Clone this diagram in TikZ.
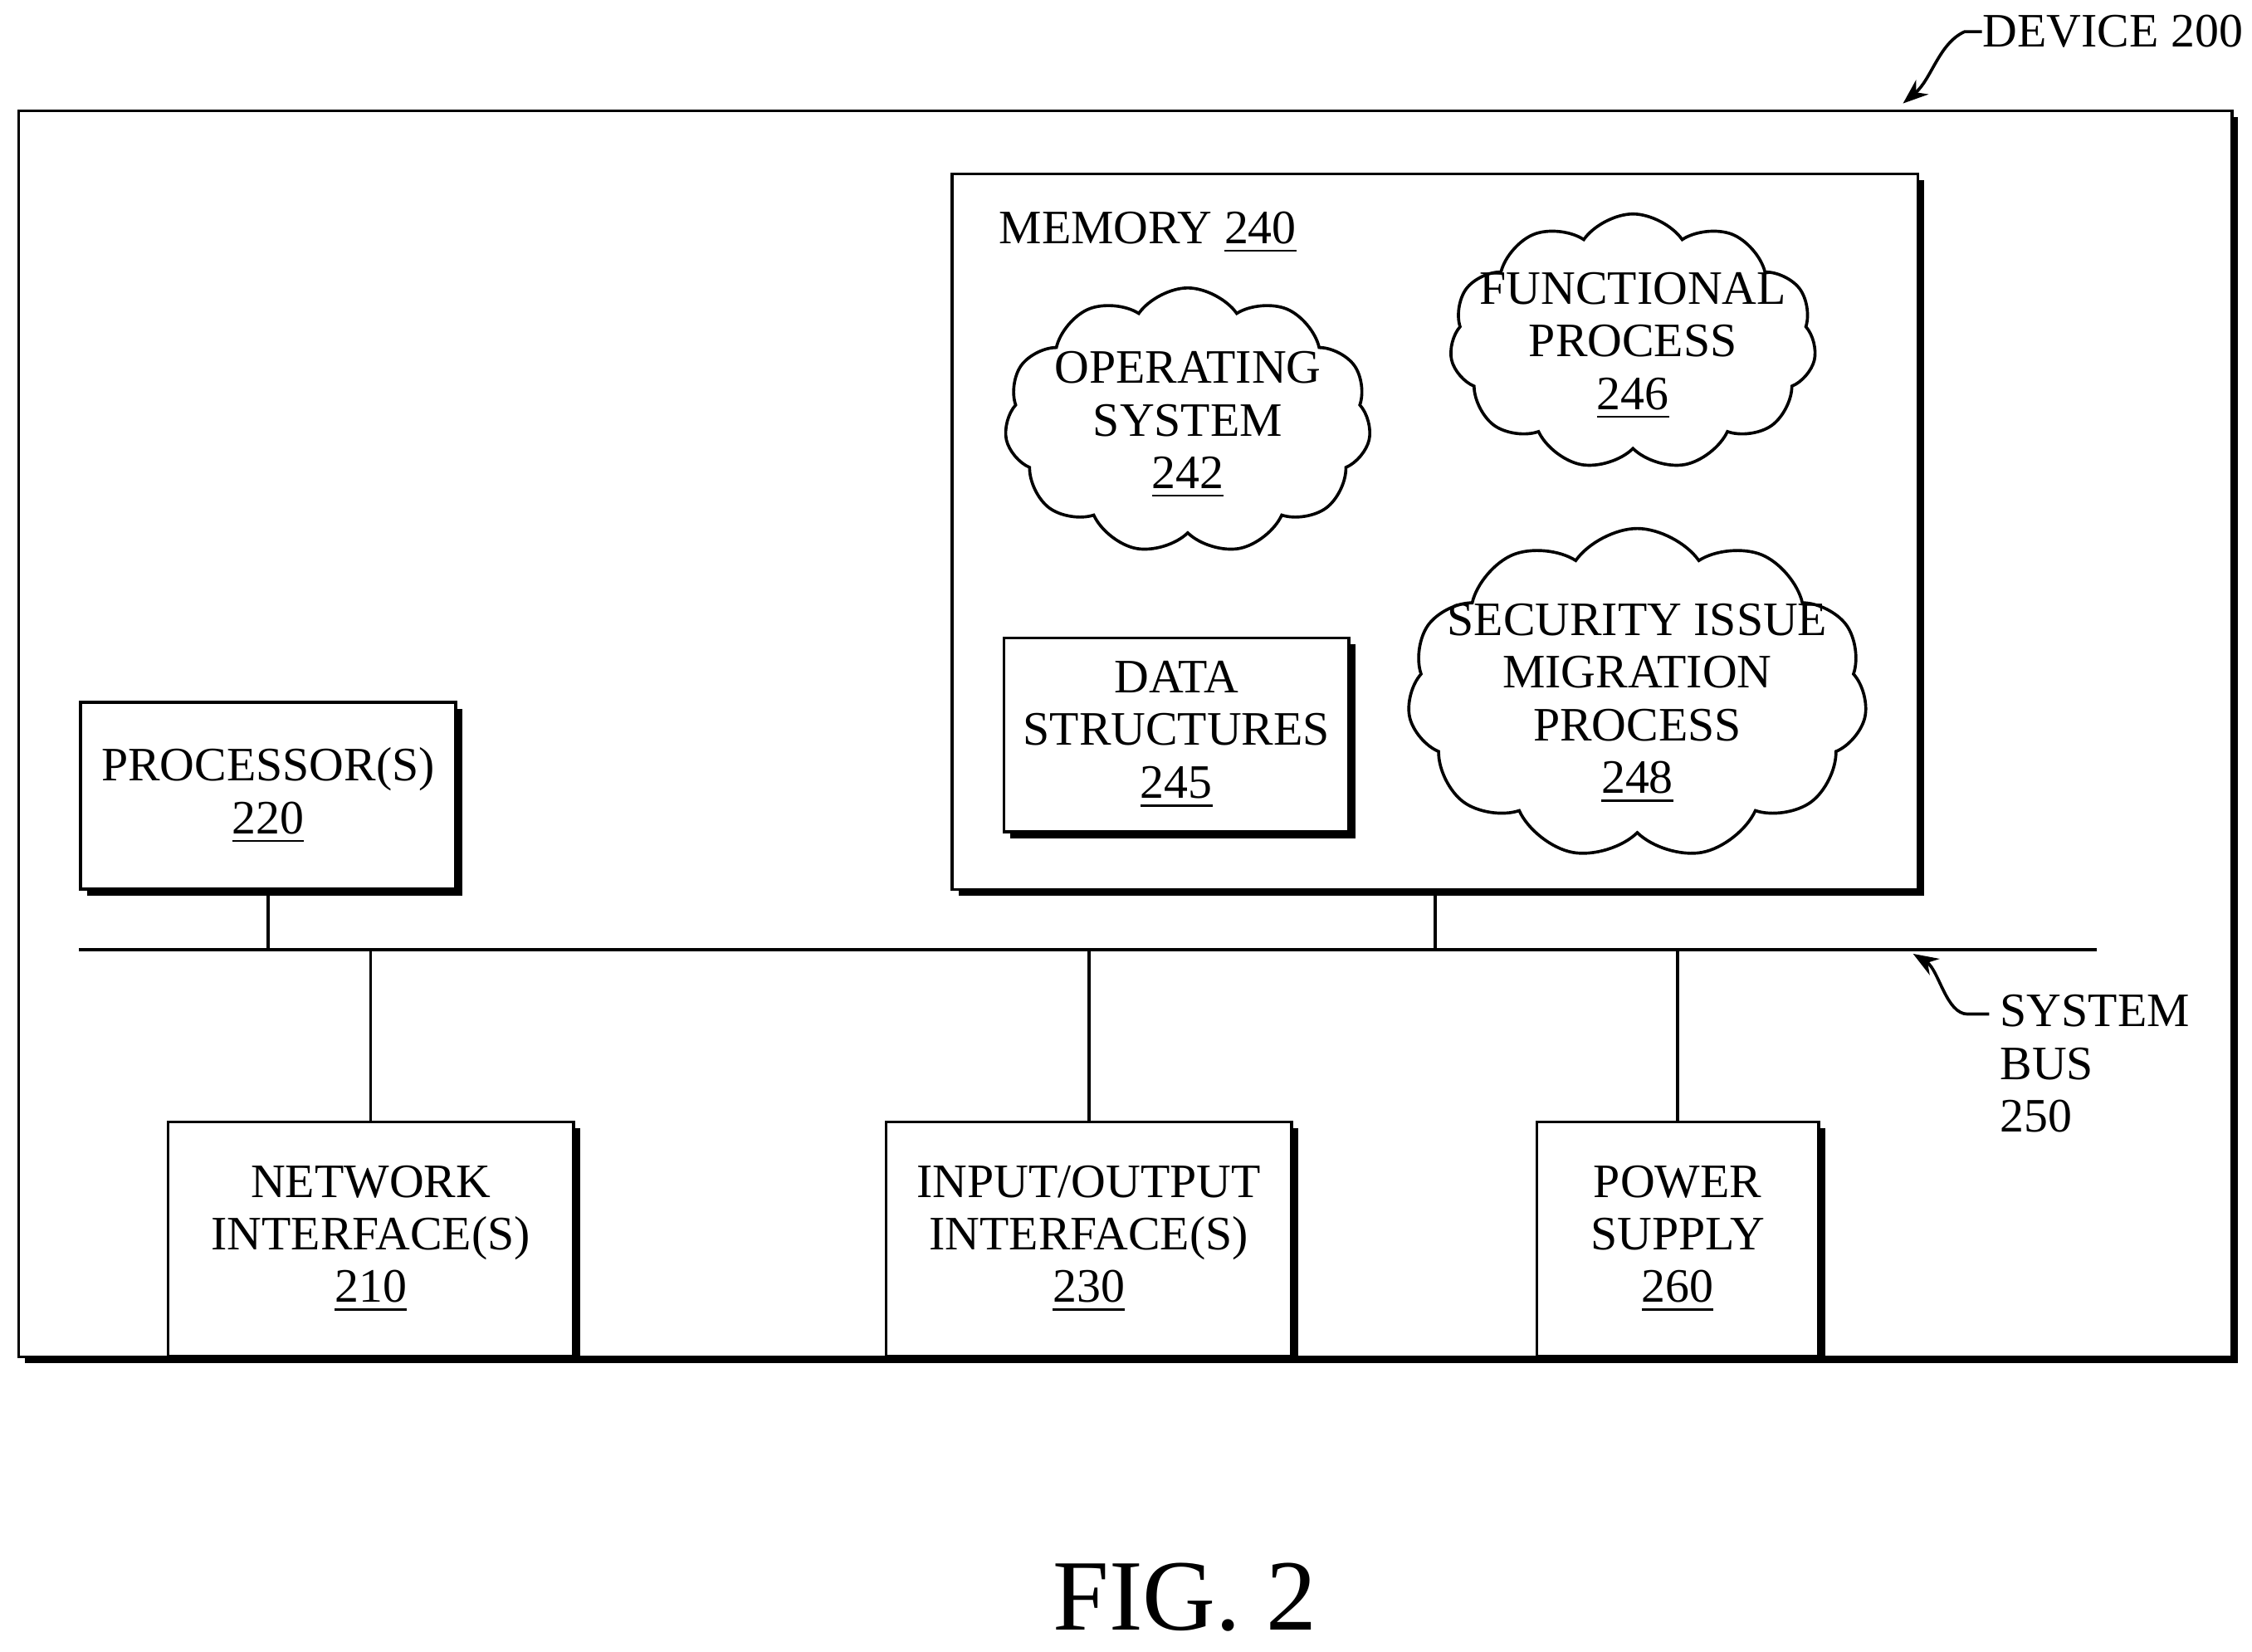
\documentclass[tikz,border=0pt]{standalone}
\usepackage{fontspec}
\setmainfont{Liberation Serif}
\usetikzlibrary{shapes.symbols,shadows,arrows.meta}
\begin{document}
\begin{tikzpicture}[x=0.01cm,y=-0.01cm,
  box/.style={draw,line width=0.6pt,fill=white,align=center,font=\fontsize{9.5}{10.4}\selectfont,
    drop shadow={shadow xshift=0.045cm,shadow yshift=-0.045cm,fill=black,opacity=1}},
  cl/.style={cloud,cloud puffs=11,cloud puff arc=110,draw,line width=0.6pt,inner sep=0pt,aspect=1.4},
  ctx/.style={align=center,font=\fontsize{9.5}{10.4}\selectfont,inner sep=0pt},
  lbl/.style={font=\fontsize{9.5}{10.4}\selectfont,align=left,inner sep=0pt},
  ln/.style={line width=0.6pt}]
\useasboundingbox (0,0) rectangle (1568,1150);
\node[box,anchor=north west,minimum width=15.4cm,minimum height=8.67cm] (dev) at (12,76) {};
\node[lbl,anchor=west] (devl) at (1380,22) {DEVICE 200};
\coordinate (deva) at (1325,72);
\draw[ln,-{Stealth[length=5pt]}] (devl.west) -- ++(-12,0) .. controls (1350,30) and (1345,55) .. (deva);
\node[box,anchor=north west,minimum width=6.72cm,minimum height=4.98cm] (mem) at (662,120) {};
\node[lbl,anchor=west] (meml) at (695,162) {MEMORY \underline{240}};
\node[cl,minimum width=2.55cm,minimum height=1.85cm] (os) at (827,293) {};
\node[ctx] (ost) at (827,296) {OPERATING\\SYSTEM\\\underline{242}};
\node[cl,minimum width=2.55cm,minimum height=1.78cm] (fp) at (1137,238) {};
\node[ctx] (fpt) at (1137,241) {FUNCTIONAL\\PROCESS\\\underline{246}};
\node[cl,minimum width=3.2cm,minimum height=2.3cm,aspect=1.5] (sec) at (1140,483) {};
\node[ctx] (sect) at (1140,490) {SECURITY ISSUE\\MIGRATION\\PROCESS\\\underline{248}};
\node[box,anchor=north west,minimum width=2.4cm,minimum height=1.35cm] (ds) at (698,443) {DATA\\STRUCTURES\\\underline{245}};
\node[box,anchor=north west,minimum width=2.61cm,minimum height=1.3cm] (proc) at (55,488) {PROCESSOR(S)\\\underline{220}};
\coordinate (busl) at (55,661); \coordinate (busr) at (1460,661);
\draw[ln] (busl) -- (busr);
\node[box,anchor=north west,minimum width=2.82cm,minimum height=1.63cm] (net) at (116,780) {NETWORK\\INTERFACE(S)\\\underline{210}};
\node[box,anchor=north west,minimum width=2.82cm,minimum height=1.63cm] (io) at (616,780) {INPUT/OUTPUT\\INTERFACE(S)\\\underline{230}};
\node[box,anchor=north west,minimum width=1.96cm,minimum height=1.63cm] (pw) at (1069,780) {POWER\\SUPPLY\\\underline{260}};
\draw[ln] (proc.south) -- (proc.south |- busl);
\draw[ln] (mem.south) -- (mem.south |- busl);
\draw[ln] (net.north) -- (net.north |- busl);
\draw[ln] (io.north) -- (io.north |- busl);
\draw[ln] (pw.north) -- (pw.north |- busl);
\node[lbl,anchor=north west] (busn) at (1392,692) {SYSTEM\\BUS\\250};
\coordinate (busa) at (1332,664);
\draw[ln,-{Stealth[length=5pt]}] (1385,706) -- (1370,706) .. controls (1355,706) and (1350,675) .. (busa);
\node[font=\fontsize{20}{24}\selectfont] (fig) at (825,1112) {FIG. 2};
\end{tikzpicture}
\end{document}
